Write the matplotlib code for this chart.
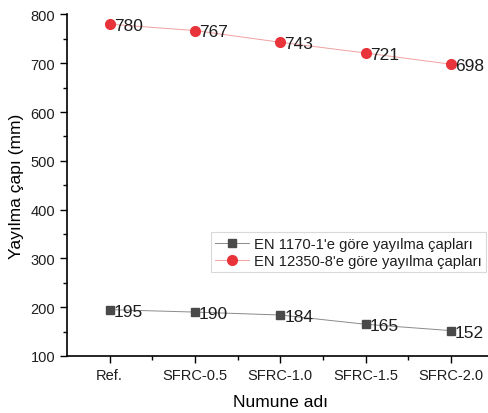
import matplotlib.pyplot as plt
from matplotlib.ticker import MultipleLocator, FixedLocator

plt.rcParams['font.family'] = ['Liberation Sans', 'DejaVu Sans']
plt.rcParams['text.color'] = '#1e1e1e'

samples = ['Ref.', 'SFRC-0.5', 'SFRC-1.0', 'SFRC-1.5', 'SFRC-2.0']
en1170 = [195, 190, 184, 165, 152]
en12350 = [780, 767, 743, 721, 698]

fig = plt.figure(figsize=(4.88, 4.14), dpi=100)
ax = fig.add_axes([0.1373, 0.1377, 0.874, 0.825])

x = list(range(len(samples)))
ax.plot(x, en1170, color='#8a8a8a', lw=0.7, marker='s', ms=6,
        mfc='#4a4a4a', mec='#4a4a4a', label="EN 1170-1'e göre yayılma çapları")
ax.plot(x, en12350, color='#f0a0a0', lw=0.7, marker='o', ms=7,
        mfc='#e8333a', mec='#e8333a', label="EN 12350-8'e göre yayılma çapları")

for xi, v in zip(x, en1170):
    ax.annotate(str(v), (xi, v), xytext=(3, -1), textcoords='offset points',
                va='center', ha='left', fontsize=12.5)
for xi, v in zip(x, en12350):
    ax.annotate(str(v), (xi, v), xytext=(3, -1), textcoords='offset points',
                va='center', ha='left', fontsize=12.5)

ax.set_xlim(-0.5, 4.5)
ax.set_ylim(100, 800)
ax.set_xticks(x)
ax.set_xticklabels(samples)
ax.xaxis.set_minor_locator(FixedLocator([0.5, 1.5, 2.5, 3.5]))
ax.yaxis.set_major_locator(MultipleLocator(100))
ax.yaxis.set_minor_locator(MultipleLocator(50))
ax.tick_params(which='major', direction='out', length=5, width=1,
               labelsize=10.5, labelcolor='#1e1e1e')
ax.tick_params(which='minor', direction='out', length=3, width=1)
for s in ['top', 'right']:
    ax.spines[s].set_visible(False)
for s in ['left', 'bottom']:
    ax.spines[s].set_linewidth(1.2)

ax.set_xlabel('Numune adı', fontsize=12.5, labelpad=9)
ax.set_ylabel('Yayılma çapı (mm)', fontsize=12.5, labelpad=5)

leg = ax.legend(loc='upper left', bbox_to_anchor=(0.432, 0.436),
                bbox_transform=fig.transFigure, fontsize=10.6, frameon=True,
                fancybox=False, edgecolor='#d0d0d0', handlelength=2.3,
                borderpad=0.3, labelspacing=0.2, handletextpad=0.35,
                borderaxespad=0)
leg.get_frame().set_linewidth(0.8)

fig.savefig('out.png', dpi=100)
